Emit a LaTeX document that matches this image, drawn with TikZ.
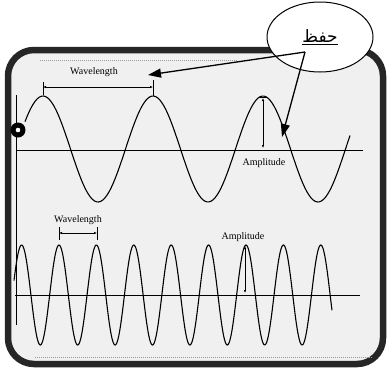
\documentclass[tikz,border=0pt]{standalone}
\usepackage{fontspec}
\setmainfont{Liberation Serif}
\newfontfamily\arabicfont[Script=Arabic]{DejaVu Sans}
\TeXXeTstate=1
\usetikzlibrary{arrows.meta, shapes.geometric}
\tikzset{
  every picture/.style={line width=0.8pt},
  frame/.style={draw=black!85, line width=6.5pt, rounded corners=26pt, fill=black!6},
  wave/.style={line width=1.1pt, smooth},
  axis/.style={line width=0.8pt},
  dim/.style={{Latex[length=3pt,width=2.5pt]}-{Latex[length=3pt,width=2.5pt]}, line width=0.7pt},
  tickmark/.style={line width=0.5pt},
  lbl/.style={font=\fontsize{10}{12}\selectfont, inner sep=1pt},
  pointer/.style={-{Triangle[length=13pt,width=9pt]}, line width=1.3pt},
  bubble/.style={draw, ellipse, fill=white, line width=1pt, minimum width=106pt, minimum height=70pt, inner sep=0pt},
  speck/.style={densely dotted, draw=black!40, line width=1pt},
}

\begin{document}
\begin{tikzpicture}[x=1pt, y=-1pt]
  \useasboundingbox (0,0) rectangle (388,376);
  % frame
  \draw[frame] (8,50) rectangle (383,364);
  \draw[speck] (40,60) -- (238,60);
  \draw[speck] (35,357) -- (372,357);
  \draw[line width=0.6pt] (16,95) -- (16,325);
  \fill (18,130) circle (7.5);
  \fill[white] (18,130) circle (2.3);

  % long wave (period 110)
  \draw[axis] (16,150) -- (363,150);
  \draw[wave] plot[domain=25:350, samples=160] (\x, {149-53*cos(3.2727*(\x-43))});
  \node[lbl] (wl1) at (94,72) {Wavelength};
  \draw[tickmark] (43,82) -- (43,95) (153,80) -- (153,96);
  \draw[dim] (43,87) -- (153,87);
  \draw[dim] (263,98) -- (263,148);
  \draw[tickmark] (259,97) -- (267,97);
  \node[lbl] (amp1) at (264,163) {Amplitude};

  % short wave (period 37.4)
  \draw[axis] (15,295) -- (360,295);
  \draw[wave] plot[domain=14:332, samples=400] (\x, {295-50*cos(9.6257*(\x-21.6))});
  \node[lbl] (wl2) at (78,220) {Wavelength};
  \draw[tickmark] (59,227) -- (59,240) (97,227) -- (97,240);
  \draw[dim] (59,233) -- (97,233);
  \node[lbl] (amp2) at (243,237) {Amplitude};
  \draw[dim] (245,246) -- (245,293);

  % note bubble
  \node[bubble] (memo) at (320,37) {\arabicfont\fontsize{17}{20}\selectfont\underline{\beginR حفظ\endR}};
  \coordinate (tail) at (305,52);
  \coordinate (tip1) at (148,75);
  \coordinate (tip2) at (282,137);
  \draw[pointer] (tail) -- (tip1);
  \draw[pointer] (tail) -- (tip2);
\end{tikzpicture}
\end{document}
